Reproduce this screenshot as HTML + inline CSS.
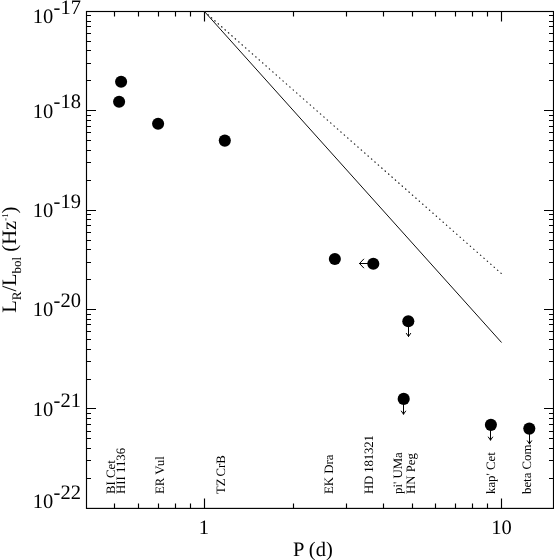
<!DOCTYPE html>
<html><head><meta charset="utf-8"><style>
html,body{margin:0;padding:0;background:#fff;}
svg{display:block;will-change:transform;}
.t20{font-family:"Liberation Serif",serif;font-size:20.5px;fill:#000;text-rendering:geometricPrecision;}
.t12{font-family:"Liberation Serif",serif;font-size:12.8px;fill:#000;text-rendering:geometricPrecision;}
</style></head><body>
<svg width="554" height="560" viewBox="0 0 554 560">
<rect x="86.5" y="11.5" width="467.00" height="496.90" fill="none" stroke="#000" stroke-width="1.15"/>
<path d="M114.50 508.4v-5M114.50 11.5v5M138.50 508.4v-5M138.50 11.5v5M158.50 508.4v-5M158.50 11.5v5M175.50 508.4v-5M175.50 11.5v5M190.50 508.4v-5M190.50 11.5v5M204.50 508.4v-10M204.50 11.5v10M293.50 508.4v-5M293.50 11.5v5M346.50 508.4v-5M346.50 11.5v5M383.50 508.4v-5M383.50 11.5v5M412.50 508.4v-5M412.50 11.5v5M435.50 508.4v-5M435.50 11.5v5M455.50 508.4v-5M455.50 11.5v5M472.50 508.4v-5M472.50 11.5v5M487.50 508.4v-5M487.50 11.5v5M501.50 508.4v-10M501.50 11.5v10M86.5 478.50h4.5M553.5 478.50h-4.5M86.5 460.50h4.5M553.5 460.50h-4.5M86.5 448.50h4.5M553.5 448.50h-4.5M86.5 438.50h4.5M553.5 438.50h-4.5M86.5 431.50h4.5M553.5 431.50h-4.5M86.5 424.50h4.5M553.5 424.50h-4.5M86.5 418.50h4.5M553.5 418.50h-4.5M86.5 413.50h4.5M553.5 413.50h-4.5M86.5 408.50h9.5M553.5 408.50h-9.5M86.5 379.50h4.5M553.5 379.50h-4.5M86.5 361.50h4.5M553.5 361.50h-4.5M86.5 349.50h4.5M553.5 349.50h-4.5M86.5 339.50h4.5M553.5 339.50h-4.5M86.5 331.50h4.5M553.5 331.50h-4.5M86.5 324.50h4.5M553.5 324.50h-4.5M86.5 319.50h4.5M553.5 319.50h-4.5M86.5 314.50h4.5M553.5 314.50h-4.5M86.5 309.50h9.5M553.5 309.50h-9.5M86.5 279.50h4.5M553.5 279.50h-4.5M86.5 262.50h4.5M553.5 262.50h-4.5M86.5 249.50h4.5M553.5 249.50h-4.5M86.5 240.50h4.5M553.5 240.50h-4.5M86.5 232.50h4.5M553.5 232.50h-4.5M86.5 225.50h4.5M553.5 225.50h-4.5M86.5 219.50h4.5M553.5 219.50h-4.5M86.5 214.50h4.5M553.5 214.50h-4.5M86.5 210.50h9.5M553.5 210.50h-9.5M86.5 180.50h4.5M553.5 180.50h-4.5M86.5 162.50h4.5M553.5 162.50h-4.5M86.5 150.50h4.5M553.5 150.50h-4.5M86.5 140.50h4.5M553.5 140.50h-4.5M86.5 132.50h4.5M553.5 132.50h-4.5M86.5 126.50h4.5M553.5 126.50h-4.5M86.5 120.50h4.5M553.5 120.50h-4.5M86.5 115.50h4.5M553.5 115.50h-4.5M86.5 110.50h9.5M553.5 110.50h-9.5M86.5 80.50h4.5M553.5 80.50h-4.5M86.5 63.50h4.5M553.5 63.50h-4.5M86.5 50.50h4.5M553.5 50.50h-4.5M86.5 41.50h4.5M553.5 41.50h-4.5M86.5 33.50h4.5M553.5 33.50h-4.5M86.5 26.50h4.5M553.5 26.50h-4.5M86.5 21.50h4.5M553.5 21.50h-4.5M86.5 15.50h4.5M553.5 15.50h-4.5" stroke="#000" stroke-width="1.15" fill="none"/>
<path d="M204.35 11.4L501.55 342.5" stroke="#000" stroke-width="0.95" fill="none"/>
<path d="M204.60 11.72L204.90 11.98M208.00 14.72L208.30 14.99M211.41 17.73L211.71 17.99M214.82 20.73L215.12 21.00M218.22 23.74L218.52 24.00M221.63 26.74L221.93 27.01M225.03 29.75L225.33 30.01M228.44 32.75L228.74 33.02M231.84 35.76L232.14 36.02M235.25 38.76L235.55 39.03M238.66 41.77L238.96 42.03M242.06 44.77L242.36 45.04M245.47 47.78L245.77 48.04M248.87 50.78L249.17 51.05M252.28 53.79L252.58 54.05M255.69 56.79L255.99 57.06M259.09 59.80L259.39 60.06M262.50 62.80L262.80 63.07M265.90 65.81L266.20 66.07M269.31 68.81L269.61 69.08M272.72 71.82L273.02 72.08M276.12 74.82L276.42 75.09M279.53 77.83L279.83 78.09M282.93 80.83L283.23 81.10M286.34 83.84L286.64 84.10M289.75 86.84L290.05 87.11M293.15 89.85L293.45 90.11M296.56 92.85L296.86 93.12M299.96 95.86L300.26 96.12M303.37 98.86L303.67 99.13M306.77 101.87L307.07 102.13M310.18 104.87L310.48 105.14M313.59 107.88L313.89 108.14M316.99 110.88L317.29 111.15M320.40 113.89L320.70 114.15M323.80 116.89L324.10 117.15M327.21 119.90L327.51 120.16M330.62 122.90L330.92 123.16M334.02 125.91L334.32 126.17M337.43 128.91L337.73 129.17M340.83 131.91L341.13 132.18M344.24 134.92L344.54 135.18M347.65 137.92L347.95 138.19M351.05 140.93L351.35 141.19M354.46 143.93L354.76 144.20M357.86 146.94L358.16 147.20M361.27 149.94L361.57 150.21M364.68 152.95L364.98 153.21M368.08 155.95L368.38 156.22M371.49 158.96L371.79 159.22M374.89 161.96L375.19 162.23M378.30 164.97L378.60 165.23M381.70 167.97L382.00 168.24M385.11 170.98L385.41 171.24M388.52 173.98L388.82 174.25M391.92 176.99L392.22 177.25M395.33 179.99L395.63 180.26M398.73 183.00L399.03 183.26M402.14 186.00L402.44 186.27M405.55 189.01L405.85 189.27M408.95 192.01L409.25 192.28M412.36 195.02L412.66 195.28M415.76 198.02L416.06 198.29M419.17 201.03L419.47 201.29M422.58 204.03L422.88 204.30M425.98 207.04L426.28 207.30M429.39 210.04L429.69 210.31M432.79 213.05L433.09 213.31M436.20 216.05L436.50 216.32M439.61 219.06L439.91 219.32M443.01 222.06L443.31 222.33M446.42 225.07L446.72 225.33M449.82 228.07L450.12 228.34M453.23 231.08L453.53 231.34M456.64 234.08L456.94 234.35M460.04 237.09L460.34 237.35M463.45 240.09L463.75 240.36M466.85 243.10L467.15 243.36M470.26 246.10L470.56 246.37M473.66 249.11L473.96 249.37M477.07 252.11L477.37 252.38M480.48 255.12L480.78 255.38M483.88 258.12L484.18 258.39M487.29 261.13L487.59 261.39M490.69 264.13L490.99 264.40M494.10 267.14L494.40 267.40M497.51 270.14L497.81 270.41M500.91 273.15L501.21 273.41" stroke="#222" stroke-width="1.2" stroke-linecap="round" fill="none"/>
<circle cx="121.1" cy="81.8" r="6.05" fill="#000"/>
<circle cx="119.1" cy="101.8" r="6.05" fill="#000"/>
<circle cx="158.1" cy="123.7" r="6.05" fill="#000"/>
<circle cx="224.8" cy="140.6" r="6.05" fill="#000"/>
<circle cx="334.85" cy="258.95" r="6.05" fill="#000"/>
<circle cx="373.3" cy="263.7" r="6.05" fill="#000"/>
<circle cx="408.3" cy="321.2" r="6.05" fill="#000"/>
<circle cx="403.7" cy="398.9" r="6.05" fill="#000"/>
<circle cx="490.9" cy="424.85" r="6.05" fill="#000"/>
<circle cx="529.3" cy="428.6" r="6.05" fill="#000"/>
<path d="M408.5 325.2V336.50M406.35 333.40L408.5 336.50L410.65 333.40M403.5 402.9V414.20M401.35 411.10L403.5 414.20L405.65 411.10M490.5 428.85V440.15M488.35 437.05L490.5 440.15L492.65 437.05M529.5 432.6V443.90M527.35 440.80L529.5 443.90L531.65 440.80M369.3 263.5H359.5M363.7 259.1L359.5 263.5L363.7 267.9" stroke="#000" stroke-width="1.0" stroke-linejoin="round" stroke-linecap="round" fill="none"/>
<text x="53.2" y="23.0" text-anchor="end" class="t20">10</text><text x="53.6" y="13.8" class="t20">-17</text>
<text x="53.2" y="117.6" text-anchor="end" class="t20">10</text><text x="53.6" y="108.4" class="t20">-18</text>
<text x="53.2" y="217.0" text-anchor="end" class="t20">10</text><text x="53.6" y="207.8" class="t20">-19</text>
<text x="53.2" y="316.1" text-anchor="end" class="t20">10</text><text x="53.6" y="306.9" class="t20">-20</text>
<text x="53.2" y="415.9" text-anchor="end" class="t20">10</text><text x="53.6" y="406.7" class="t20">-21</text>
<text x="53.2" y="508.0" text-anchor="end" class="t20">10</text><text x="53.6" y="498.8" class="t20">-22</text>
<text x="203.95" y="534.2" text-anchor="middle" class="t20">1</text>
<text x="501.55" y="534.2" text-anchor="middle" class="t20">10</text>
<text x="312.9" y="556" text-anchor="middle" class="t20">P (d)</text>
<text transform="translate(16.4 312.8) rotate(-90)" class="t20">L<tspan font-size="13" dy="4.6">R</tspan><tspan dy="-4.6">/L</tspan><tspan font-size="13" dy="4.6">bol</tspan><tspan dy="-4.6"> (Hz</tspan><tspan font-size="8.8" dx="0.1" dy="-8.2">-1</tspan><tspan dy="8.2">)</tspan></text>
<text transform="translate(114.9 494) rotate(-90)" class="t12">BI Cet</text>
<text transform="translate(124.6 494) rotate(-90)" class="t12">HII 1136</text>
<text transform="translate(163.6 494) rotate(-90)" class="t12">ER Vul</text>
<text transform="translate(225.3 494) rotate(-90)" class="t12" word-spacing="-1.4">TZ CrB</text>
<text transform="translate(333.3 494) rotate(-90)" class="t12">EK Dra</text>
<text transform="translate(373.4 494) rotate(-90)" class="t12" letter-spacing="-0.15">HD 181321</text>
<text transform="translate(402.2 494) rotate(-90)" class="t12">pi' UMa</text>
<text transform="translate(414.9 494) rotate(-90)" class="t12">HN Peg</text>
<text transform="translate(494.6 494) rotate(-90)" class="t12">kap' Cet</text>
<text transform="translate(531.2 494) rotate(-90)" class="t12">beta Com</text>
</svg>
</body></html>
